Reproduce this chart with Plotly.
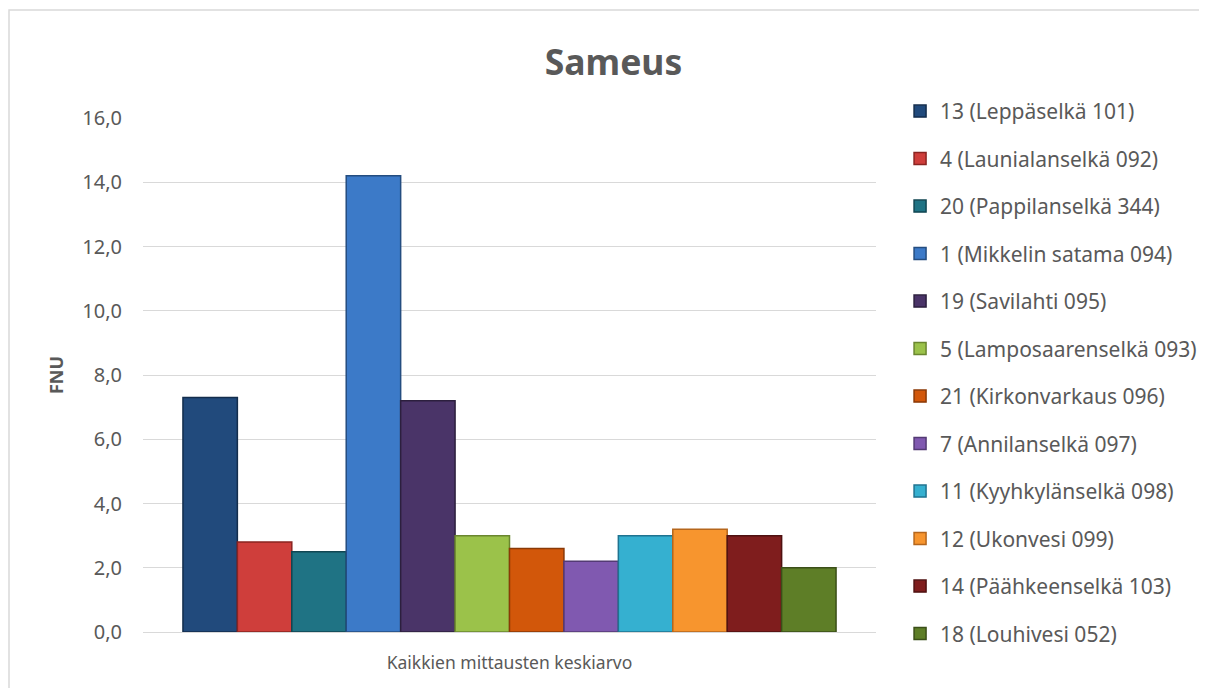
import plotly.graph_objects as go

# data
category = ["Kaikkien mittausten keskiarvo"]
stations = [
    "13 (Leppäselkä 101)",
    "4 (Launialanselkä 092)",
    "20 (Pappilanselkä 344)",
    "1 (Mikkelin satama 094)",
    "19 (Savilahti 095)",
    "5 (Lamposaarenselkä 093)",
    "21 (Kirkonvarkaus 096)",
    "7 (Annilanselkä 097)",
    "11 (Kyyhkylänselkä 098)",
    "12 (Ukonvesi 099)",
    "14 (Päähkeenselkä 103)",
    "18 (Louhivesi 052)",
]
values = [7.3, 2.8, 2.5, 14.2, 7.2, 3.0, 2.6, 2.2, 3.0, 3.2, 3.0, 2.0]
colors = ["#214A7C", "#CF3E3B", "#1F7384", "#3C7AC8", "#4A3468", "#9BC24A",
          "#D2570A", "#8059B0", "#35B0D0", "#F7952E", "#7F1D1D", "#5E7E27"]
edges = ["#132D4C", "#8A2421", "#114652", "#244D80", "#2C1F3E", "#6A862F",
         "#8A3906", "#533A74", "#1F7390", "#B5661C", "#4F1111", "#3B4F18"]

fig = go.Figure()

for name, v, c, e in zip(stations, values, colors, edges):
    fig.add_trace(go.Bar(
        x=category,
        y=[v],
        name=name,
        legendgroup=name,
        marker=dict(color=c, line=dict(color=e, width=1.5)),
    ))

# page body has an 8px margin, so the figure is a bit smaller than the window
fig.update_layout(
    width=1199,
    height=680,
    barmode="group",
    bargap=0.109,
    bargroupgap=0,
    separators=", ",
    paper_bgcolor="white",
    plot_bgcolor="white",
    font=dict(family="Noto Sans", color="#595959", size=18),
    title=dict(text="<b>Sameus</b>", x=0.505, xanchor="center", y=0.92,
               yanchor="middle", font=dict(size=35.5, color="#595959")),
    margin=dict(l=135, r=331, t=110, b=56),
    legend=dict(xref="container", yref="container",
                x=0.744, xanchor="left", y=0.878, yanchor="top",
                bgcolor="rgba(0,0,0,0)",
                font=dict(size=21, color="#595959"),
                tracegroupgap=17.2, itemwidth=30, maxheight=650),
    showlegend=True,
    xaxis=dict(showgrid=False, showline=False, ticks="",
               ticklabelstandoff=18,
               tickfont=dict(size=17.5, color="#595959")),
    yaxis=dict(range=[0, 16], dtick=2, tickformat=".1f",
               gridcolor="#D9D9D9", gridwidth=1, zeroline=True,
               zerolinecolor="#D9D9D9", zerolinewidth=1, showline=False,
               ticklabelstandoff=20,
               tickfont=dict(size=20, color="#595959"),
               title=dict(text="<b>FNU</b>", font=dict(size=18, color="#595959"),
                          standoff=14)),
)

# light frame around the whole chart
fig.add_shape(type="rect", xref="paper", yref="paper",
              x0=-0.1828, x1=1.442, y0=-0.12, y1=1.2101,
              line=dict(color="#D9D9D9", width=1.5), layer="below")

fig.write_html("out.html")
